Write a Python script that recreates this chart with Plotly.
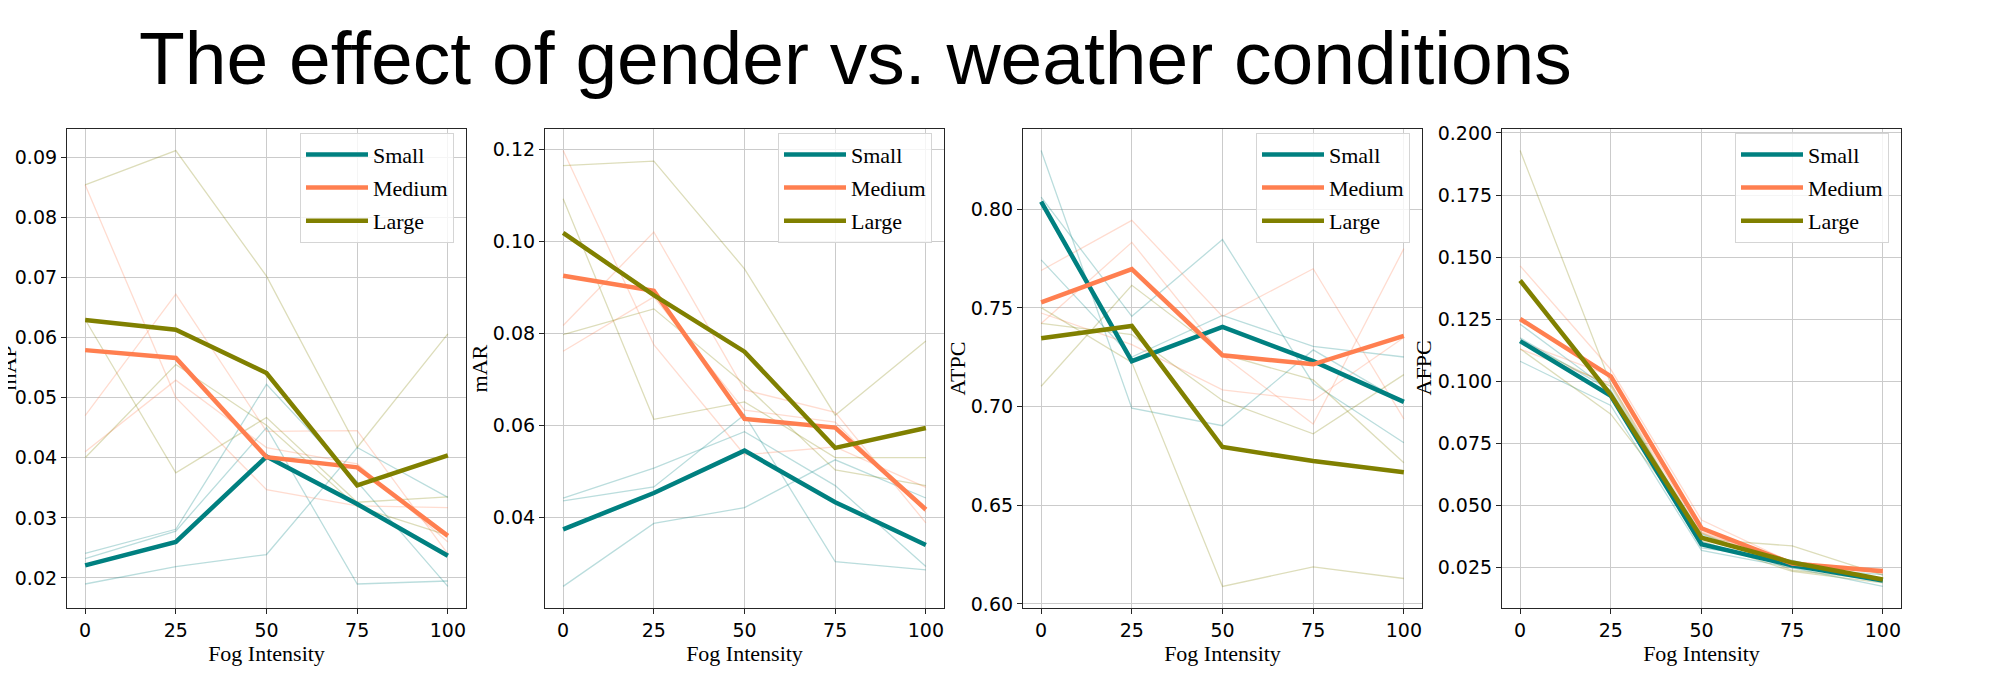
import plotly.graph_objects as go

# ---------------- data ----------------
fog = [0, 25, 50, 75, 100]
sizes = ["Small", "Medium", "Large"]
metric_names = ["mAP", "mAR", "ATPC", "AFPC"]

# mAP
map_small_runs = [[0.0190, 0.0219, 0.0239, 0.0417, 0.0334],
                  [0.0241, 0.0281, 0.0522, 0.0360, 0.0186],
                  [0.0232, 0.0278, 0.0450, 0.0190, 0.0195]]
map_medium_runs = [[0.0854, 0.0500, 0.0347, 0.0320, 0.0317],
                   [0.0470, 0.0672, 0.0444, 0.0445, 0.0240],
                   [0.0410, 0.0529, 0.0417, 0.0390, 0.0260]]
map_large_runs = [[0.0854, 0.0911, 0.0702, 0.0417, 0.0606],
                  [0.0630, 0.0375, 0.0467, 0.0326, 0.0335],
                  [0.0400, 0.0555, 0.0454, 0.0319, 0.0271]]
map_small_mean = [0.0221, 0.0260, 0.0402, 0.0323, 0.0237]
map_medium_mean = [0.0579, 0.0566, 0.0401, 0.0384, 0.0270]
map_large_mean = [0.0629, 0.0613, 0.0541, 0.0354, 0.0404]

# mAR
mar_small_runs = [[0.0251, 0.0388, 0.0422, 0.0526, 0.0443],
                  [0.0443, 0.0508, 0.0587, 0.0470, 0.0294],
                  [0.0437, 0.0467, 0.0624, 0.0305, 0.0287]]
mar_medium_runs = [[0.1198, 0.0776, 0.0537, 0.0554, 0.0466],
                   [0.0818, 0.1021, 0.0678, 0.0629, 0.0389],
                   [0.0762, 0.0880, 0.0634, 0.0608, 0.0412]]
mar_large_runs = [[0.1165, 0.1175, 0.0941, 0.0623, 0.0784],
                  [0.1093, 0.0614, 0.0652, 0.0531, 0.0531],
                  [0.0798, 0.0854, 0.0690, 0.0504, 0.0470]]
mar_small_mean = [0.0375, 0.0454, 0.0546, 0.0434, 0.0341]
mar_medium_mean = [0.0926, 0.0893, 0.0615, 0.0596, 0.0418]
mar_large_mean = [0.1019, 0.0884, 0.0761, 0.0552, 0.0595]

# ATPC
atpc_small_runs = [[0.8297, 0.6992, 0.6903, 0.7287, 0.7019],
                   [0.8061, 0.7457, 0.7846, 0.7117, 0.6817],
                   [0.7743, 0.7251, 0.7462, 0.7305, 0.7251]]
atpc_medium_runs = [[0.7689, 0.7943, 0.7457, 0.7698, 0.6938],
                    [0.7421, 0.7832, 0.7260, 0.6912, 0.7800],
                    [0.7474, 0.7314, 0.7085, 0.7031, 0.7350]]
atpc_large_runs = [[0.7501, 0.7224, 0.6089, 0.6188, 0.6129],
                   [0.7421, 0.7364, 0.7031, 0.6862, 0.7162],
                   [0.7103, 0.7614, 0.7265, 0.7135, 0.6715]]
atpc_small_mean = [0.8038, 0.7230, 0.7403, 0.7230, 0.7024]
atpc_medium_mean = [0.7528, 0.7696, 0.7260, 0.7214, 0.7358]
atpc_large_mean = [0.7346, 0.7408, 0.6795, 0.6724, 0.6667]

# AFPC
afpc_small_runs = [[0.1230, 0.0960, 0.0330, 0.0280, 0.0200],
                   [0.1081, 0.0903, 0.0320, 0.0250, 0.0175],
                   [0.1175, 0.0963, 0.0385, 0.0250, 0.0222]]
afpc_medium_runs = [[0.1465, 0.1048, 0.0442, 0.0270, 0.0245],
                    [0.1130, 0.0990, 0.0390, 0.0265, 0.0230],
                    [0.1158, 0.1022, 0.0395, 0.0266, 0.0233]]
afpc_large_runs = [[0.1929, 0.0990, 0.0365, 0.0338, 0.0220],
                   [0.1131, 0.0868, 0.0390, 0.0240, 0.0200],
                   [0.1158, 0.0980, 0.0358, 0.0235, 0.0189]]
afpc_small_mean = [0.1162, 0.0942, 0.0345, 0.0260, 0.0199]
afpc_medium_mean = [0.1251, 0.1020, 0.0409, 0.0267, 0.0236]
afpc_large_mean = [0.1406, 0.0946, 0.0371, 0.0271, 0.0203]

y_dticks = [0.01, 0.02, 0.05, 0.025]
y_formats = [".2f", ".2f", ".2f", ".3f"]

# ---------------- layout helpers ----------------
# the page body has an 8px margin, so the figure is placed 8px in from the window corner
OFF = 8
W, H = 2000 - OFF, 674 - OFF


def fx(px):  # screen x pixel -> paper fraction
    return (px - OFF) / W


def fy(py):  # screen y pixel -> paper fraction
    return 1 - (py - OFF) / H


lefts = [67, 545, 1023, 1502]
pw = 399
top, bottom = 124, 613
label_centers = [8, 479, 957, 1423]

colors = {"Small": "#008080", "Medium": "#FF7F50", "Large": "#808000"}
thin_rgba = {"Small": "rgba(0,128,128,0.27)", "Medium": "rgba(255,127,80,0.27)",
             "Large": "rgba(128,128,0,0.27)"}

panel_runs = [
    [map_small_runs, map_medium_runs, map_large_runs],
    [mar_small_runs, mar_medium_runs, mar_large_runs],
    [atpc_small_runs, atpc_medium_runs, atpc_large_runs],
    [afpc_small_runs, afpc_medium_runs, afpc_large_runs],
]
panel_means = [
    [map_small_mean, map_medium_mean, map_large_mean],
    [mar_small_mean, mar_medium_mean, mar_large_mean],
    [atpc_small_mean, atpc_medium_mean, atpc_large_mean],
    [afpc_small_mean, afpc_medium_mean, afpc_large_mean],
]

fig = go.Figure()
annotations = []
tick_font = dict(family="DejaVu Sans", size=19, color="#000000")
serif = "Liberation Serif"

for i in range(4):
    sfx = "" if i == 0 else str(i + 1)
    xa, ya = "x" + sfx, "y" + sfx
    leg = "legend" + sfx
    for s, size in enumerate(sizes):
        for run in panel_runs[i][s]:
            fig.add_trace(go.Scatter(x=fog, y=run, mode="lines", xaxis=xa, yaxis=ya,
                                     line=dict(color=thin_rgba[size], width=1.3),
                                     showlegend=False, hoverinfo="skip"))
    for s, size in enumerate(sizes):
        fig.add_trace(go.Scatter(x=fog, y=panel_means[i][s], mode="lines", xaxis=xa, yaxis=ya,
                                 name=size, legend=leg, showlegend=True,
                                 legendgroup=f"{size}{i}",
                                 line=dict(color=colors[size], width=4.5)))

    allv = [v for runs in panel_runs[i] for r in runs for v in r] + \
           [v for m in panel_means[i] for v in m]
    lo, hi = min(allv), max(allv)
    pad = (hi - lo) * 0.05

    common = dict(showline=True, mirror=True, linecolor="#262626", linewidth=1.2,
                  showgrid=True, gridcolor="#cbcbcb", gridwidth=1.1,
                  ticks="outside", ticklen=5, tickwidth=1.2, tickcolor="#262626",
                  tickfont=tick_font, zeroline=False)
    fig.layout["xaxis" + sfx] = dict(
        domain=[fx(lefts[i]), fx(lefts[i] + pw)], anchor=ya,
        range=[-5, 105], tickmode="array", tickvals=fog, ticktext=[str(v) for v in fog],
        title=dict(text="Fog Intensity", font=dict(family=serif, size=22, color="#000"),
                   standoff=2),
        **common)
    fig.layout["yaxis" + sfx] = dict(
        domain=[fy(bottom), fy(top)], anchor=xa,
        range=[lo - pad, hi + pad], dtick=y_dticks[i], tick0=0, tickformat=y_formats[i],
        **common)
    fig.layout[leg] = dict(
        x=fx(lefts[i] + pw - 12), xanchor="right", y=fy(128), yanchor="top",
        bgcolor="rgba(255,255,255,0.8)", bordercolor="#d5d5d5", borderwidth=1,
        font=dict(family=serif, size=22, color="#000"), itemwidth=62,
        traceorder="grouped", tracegroupgap=1.5)
    annotations.append(dict(text=metric_names[i], xref="paper", yref="paper",
                            x=fx(label_centers[i]), y=fy((top + bottom) / 2),
                            xanchor="center", yanchor="middle", textangle=-90,
                            showarrow=False, font=dict(family=serif, size=22, color="#000")))

fig.update_layout(
    width=W, height=H, autosize=False,
    margin=dict(l=0, r=0, t=0, b=0),
    paper_bgcolor="white", plot_bgcolor="white",
    title=dict(text="The effect of gender vs. weather conditions",
               font=dict(family="Liberation Sans", size=75, color="#000"),
               x=fx(139), xanchor="left", xref="paper",
               y=1 - 50 / H, yref="container", yanchor="middle"),
    annotations=annotations,
)

fig.write_html("out.html")
